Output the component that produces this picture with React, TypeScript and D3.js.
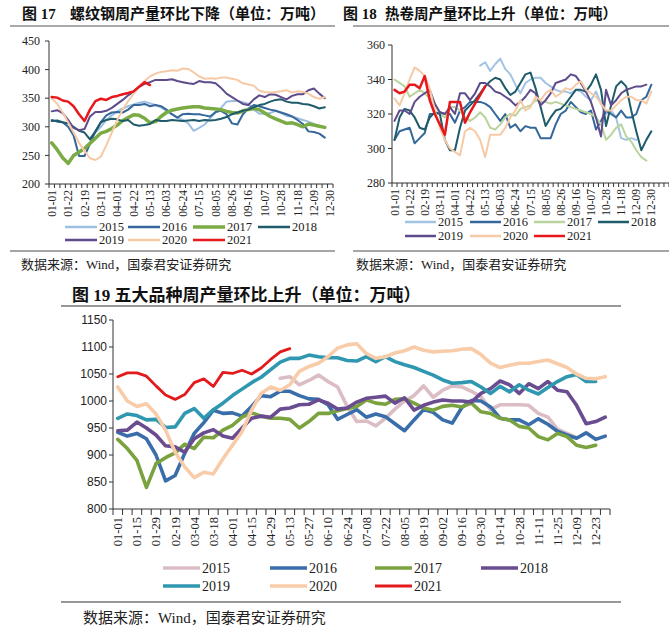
import React from 'react';
import * as d3 from 'd3';

// week labels on the category axes
const topTickLabels = ['01-01', '01-22', '02-19', '03-11', '04-01', '04-22', '05-13', '06-03', '06-24', '07-15', '08-05', '08-26', '09-16', '10-07', '10-28', '11-18', '12-09', '12-30'];
const bottomTickLabels = ['01-01', '01-15', '01-29', '02-19', '03-04', '03-18', '04-01', '04-15', '04-29', '05-13', '05-27', '06-10', '06-24', '07-08', '07-22', '08-05', '08-19', '09-02', '09-16', '09-30', '10-14', '10-28', '11-11', '11-25', '12-09', '12-23'];
const years = ['2015', '2016', '2017', '2018', '2019', '2020', '2021'];

// 图17 螺纹钢周产量 (万吨)
const rebar2015 = [null, null, null, null, null, null, null, 280, 290, 300, 312, 320, 327, 332, 336, 339, 342, 344, 341, 338, 334, 328, 322, 316, 312, 306, 293, 298, 304, 315, 325, 333, 344, 345, 345, 343, 340, 330, 323, 323, 324, 328, 324, 319, 318, 315, 312, 309, 305];
const rebar2016 = [312, 309, 308, 300, 285, 249, 249, 270, 292, 308, 320, 325, 326, 325, 330, 338, 338, 340, 336, 338, 336, 330, 322, 316, 322, 323, 322, 322, 320, 318, 326, 328, 322, 306, 304, 322, 332, 338, 336, 333, 330, 328, 325, 322, 318, 312, 305, 292, 291, 288, 281];
const rebar2017 = [272, 260, 246, 236, 250, 256, 262, 271, 280, 289, 292, 297, 303, 311, 316, 321, 320, 315, 307, 309, 318, 325, 329, 331, 333, 334, 335, 335, 333, 332, 331, 330, 327, 325, 324, 328, 330, 332, 330, 324, 318, 314, 310, 306, 307, 304, 300, 305, 303, 301, 299];
const rebar2018 = [310, 311, 308, 306, 300, 293, 290, 278, 292, 308, 312, 314, 313, 310, 312, 304, 302, 303, 305, 312, 310, 310, 312, 311, 310, 311, 312, 310, 312, 311, 312, 314, 317, 322, 325, 328, 330, 334, 338, 340, 344, 347, 348, 344, 342, 342, 340, 339, 336, 332, 334];
const rebar2019 = [327, 329, 324, 312, 298, 294, 296, 318, 326, 326, 328, 333, 340, 347, 355, 362, 370, 375, 378, 382, 382, 382, 383, 380, 378, 376, 375, 380, 378, 378, 376, 368, 358, 352, 346, 340, 338, 348, 355, 352, 357, 356, 352, 348, 354, 357, 357, 364, 367, 358, 350];
const rebar2020 = [350, 340, 325, 308, 290, 272, 258, 245, 242, 248, 268, 290, 312, 330, 345, 358, 370, 380, 388, 393, 396, 397, 399, 398, 402, 401, 395, 388, 384, 385, 384, 386, 386, 384, 382, 376, 374, 372, 363, 361, 360, 361, 362, 364, 360, 362, 361, 358, 352, 349, 352];
const rebar2021 = [352, 351, 346, 344, 336, 322, 310, 330, 345, 349, 347, 352, 354, 357, 359, 362, 370, 378, 373];

// 图18 热卷周产量 (万吨)
const coil2015 = [null, null, null, null, null, null, null, null, null, null, null, null, null, null, null, null, null, 348, 350, 345, 349, 352, 346, 343, 337, 332, 338, 340, 341, 341, 338, 336, 334, 333, 333, 332, 334, 333, 330, 328, 333, 326, 320, 322, 318, 306, 305, 306, 305];
const coil2016 = [305, 310, 311, 312, 303, 306, 309, 320, 320, 321, 320, 320, 315, 322, 324, 327, 327, 327, 326, 324, 320, 316, 320, 312, 314, 310, 313, 312, 312, 306, 306, 306, 314, 320, 322, 327, 324, 321, 320, 322, 311, 316, 322, 320, 318, 322, 318, 318, 320, 328, 330, 337];
const coil2017 = [340, 338, 336, 330, 332, 334, 332, 329, 326, 320, 318, 324, 324, 322, 318, 316, 318, 321, 318, 312, 311, 314, 318, 320, 319, 323, 324, 325, 328, 327, 327, 326, 327, 326, 325, 324, 323, 322, 321, 320, 318, 314, 305, 308, 312, 314, 307, 304, 299, 295, 293];
const coil2018 = [305, 318, 323, 322, 318, 312, 311, 318, 321, 320, 305, 299, 299, 312, 322, 325, 328, 332, 336, 339, 341, 340, 335, 331, 333, 338, 343, 344, 335, 324, 313, 318, 322, 323, 326, 330, 334, 334, 333, 337, 343, 334, 313, 325, 336, 339, 336, 322, 310, 299, 305, 310];
const coil2019 = [316, 322, 322, 320, 327, 330, 332, 334, 326, 321, 320, 324, 320, 332, 332, 328, 332, 338, 338, 336, 333, 332, 330, 328, 325, 327, 330, 334, 332, 325, 328, 332, 338, 339, 340, 343, 342, 338, 333, 327, 318, 307, 334, 325, 328, 332, 334, 335, 336, 336, 337];
const coil2020 = [329, 325, 332, 340, 347, 345, 342, 335, 322, 312, 305, 300, 298, 296, 310, 312, 310, 305, 295, 308, 308, 308, 312, 318, 322, 328, 322, 324, 330, 328, 332, 334, 330, 332, 335, 334, 337, 339, 334, 332, 330, 326, 322, 322, 325, 328, 330, 330, 328, 328, 326, 333];
const coil2021 = [334, 332, 333, 337, 337, 335, 342, 328, 320, 314, 308, 327, 327, 327, 315, 321, 326, 331, 336];

// 图19 五大品种周产量 (万吨)
const five2015 = [null, null, null, null, null, null, null, null, null, null, null, null, null, null, null, null, null, 1042, 1045, 1030, 1038, 1048, 1036, 1026, 990, 962, 963, 954, 968, 985, 1000, 1010, 1028, 1007, 1020, 1028, 1026, 1018, 1008, 984, 993, 993, 993, 992, 977, 970, 948, 940, 932];
const five2016 = [942, 935, 940, 930, 900, 852, 862, 903, 940, 960, 983, 977, 978, 972, 990, 1010, 1008, 1018, 1018, 1010, 1004, 1003, 993, 966, 975, 984, 970, 976, 971, 958, 945, 965, 984, 979, 965, 959, 988, 1001, 1000, 989, 968, 965, 965, 956, 967, 957, 944, 937, 931, 941, 929, 935];
const five2017 = [929, 912, 890, 840, 884, 895, 904, 920, 912, 933, 932, 946, 955, 970, 978, 972, 968, 968, 966, 950, 962, 977, 977, 982, 986, 990, 1002, 996, 994, 1003, 1004, 996, 987, 983, 990, 992, 989, 996, 980, 977, 968, 965, 953, 950, 934, 928, 940, 934, 918, 914, 918];
const five2018 = [945, 946, 961, 950, 937, 917, 915, 905, 930, 941, 947, 935, 931, 950, 968, 972, 970, 985, 987, 993, 994, 1002, 996, 985, 987, 998, 1005, 1007, 1009, 996, 1006, 983, 992, 998, 1002, 1000, 1000, 998, 1014, 1023, 1037, 1030, 1014, 1032, 1023, 1036, 1020, 1017, 992, 958, 962, 970];
const five2019 = [968, 976, 973, 965, 966, 951, 952, 977, 986, 968, 984, 996, 1010, 1022, 1034, 1044, 1058, 1072, 1079, 1079, 1085, 1082, 1080, 1080, 1075, 1074, 1082, 1073, 1082, 1073, 1067, 1062, 1055, 1048, 1039, 1033, 1034, 1036, 1026, 1014, 1027, 1017, 1030, 1020, 1013, 1025, 1036, 1045, 1049, 1036, 1036];
const five2020 = [1026, 1000, 990, 995, 976, 946, 905, 878, 858, 868, 865, 893, 918, 943, 983, 1014, 1026, 1020, 1030, 1055, 1064, 1070, 1082, 1098, 1104, 1106, 1088, 1079, 1082, 1089, 1093, 1100, 1094, 1091, 1092, 1093, 1096, 1097, 1086, 1070, 1062, 1066, 1070, 1070, 1073, 1076, 1069, 1062, 1050, 1042, 1041, 1045];
const five2021 = [1045, 1052, 1052, 1046, 1028, 1011, 1003, 1012, 1034, 1041, 1027, 1053, 1051, 1057, 1050, 1061, 1077, 1091, 1097];

const SERIF = "'Liberation Serif', 'Noto Sans CJK SC', serif";
const CJK = "'Noto Sans CJK SC', sans-serif";
const SANS = "'Liberation Sans', Arial, sans-serif";

type Val = number | null;
interface Series { name: string; values: Val[]; color: string; width: number }

interface ChartCfg {
  series: Series[];
  n: number;
  x0: number; x1: number;
  yTop: number; yBottom: number;
  domain: [number, number];
  yStep: number;
  tickLabels: string[];
  labelStep: number;
  yFont: string; yFontSize: number; yLabelGap: number;
  xFontSize: number; xLabelGap: number;
  tickLen: number;
}

function LineChart({ cfg }: { cfg: ChartCfg }) {
  const x = d3.scaleBand<number>().domain(d3.range(cfg.n)).range([cfg.x0, cfg.x1]);
  const cx = (i: number) => (x(i) as number) + x.bandwidth() / 2;
  const y = d3.scaleLinear().domain(cfg.domain).range([cfg.yBottom, cfg.yTop]);
  const yTicks = d3.range(cfg.domain[0], cfg.domain[1] + 1, cfg.yStep);
  const line = d3.line<Val>()
    .defined(d => d != null)
    .x((_, i) => cx(i))
    .y(d => y(d as number));

  return (
    <g>
      {/* axes */}
      <line x1={cfg.x0} x2={cfg.x0} y1={cfg.yTop} y2={cfg.yBottom} stroke="#333" strokeWidth={1} />
      <line x1={cfg.x0} x2={cfg.x1} y1={cfg.yBottom} y2={cfg.yBottom} stroke="#333" strokeWidth={1} />
      {yTicks.map(t => (
        <g key={t}>
          <line x1={cfg.x0 - 4} x2={cfg.x0} y1={y(t)} y2={y(t)} stroke="#333" />
          <text x={cfg.x0 - cfg.yLabelGap} y={y(t)} dy="0.35em" textAnchor="end"
            fontFamily={cfg.yFont} fontSize={cfg.yFontSize} fill="#222">{t}</text>
        </g>
      ))}
      {d3.range(cfg.n + 1).map(i => {
        const px = cfg.x0 + i * x.step();
        return <line key={i} x1={px} x2={px} y1={cfg.yBottom} y2={cfg.yBottom + cfg.tickLen} stroke="#333" />;
      })}
      {cfg.tickLabels.map((lab, k) => {
        const px = cx(k * cfg.labelStep);
        const py = cfg.yBottom + cfg.xLabelGap;
        return (
          <text key={lab} transform={`translate(${px},${py}) rotate(-90)`} dy="0.35em" textAnchor="end"
            fontFamily={SERIF} fontSize={cfg.xFontSize} fill="#222">{lab}</text>
        );
      })}
      {/* series */}
      {cfg.series.map(s => (
        <path key={s.name} d={line(s.values) || ''} fill="none" stroke={s.color}
          strokeWidth={s.width} strokeLinejoin="round" strokeLinecap="round" />
      ))}
    </g>
  );
}

function Legend({ series, xs, ys, lineLen, fontSize }: { series: Series[]; xs: number[]; ys: number[]; lineLen: number; fontSize: number }) {
  return (
    <g>
      {series.map((s, k) => {
        const lx = xs[k % 4];
        const ly = ys[Math.floor(k / 4)];
        return (
          <g key={s.name}>
            <line x1={lx} x2={lx + lineLen} y1={ly} y2={ly} stroke={s.color} strokeWidth={Math.max(s.width, 2.5)} />
            <text x={lx + lineLen + 2} y={ly} dy="0.35em" fontFamily={SERIF} fontSize={fontSize} fill="#222">{s.name}</text>
          </g>
        );
      })}
    </g>
  );
}

const rebarColors = ['#9dc0e2', '#35679b', '#7aab45', '#1f5b6b', '#5e4b8c', '#f7caa6', '#e8171b'];
const rebarWidths = [2, 2, 3.5, 2, 2, 2, 2.5];
const coilColors = ['#a3c3e3', '#35679b', '#b9d49c', '#1f5b6b', '#5e4b8c', '#f7caa6', '#e8171b'];
const fiveColors = ['#dbbdc4', '#3a6eab', '#7aa23f', '#6a4c90', '#2f98b0', '#f8cca9', '#e31a1c'];

export default function App() {
  const rebarSeries: Series[] = [rebar2015, rebar2016, rebar2017, rebar2018, rebar2019, rebar2020, rebar2021]
    .map((v, k) => ({ name: years[k], values: v, color: rebarColors[k], width: rebarWidths[k] }));
  const coilSeries: Series[] = [coil2015, coil2016, coil2017, coil2018, coil2019, coil2020, coil2021]
    .map((v, k) => ({ name: years[k], values: v, color: coilColors[k], width: k === 6 ? 2.5 : 2 }));
  const fiveSeries: Series[] = [five2015, five2016, five2017, five2018, five2019, five2020, five2021]
    .map((v, k) => ({ name: years[k], values: v, color: fiveColors[k], width: k === 6 ? 2.8 : 3.6 }));

  const rebarCfg: ChartCfg = {
    series: rebarSeries, n: 52, x0: 49, x1: 333, yTop: 41, yBottom: 184,
    domain: [200, 450], yStep: 50, tickLabels: topTickLabels, labelStep: 3,
    yFont: SERIF, yFontSize: 12, yLabelGap: 9, xFontSize: 11.5, xLabelGap: 6, tickLen: 4,
  };
  const coilCfg: ChartCfg = {
    series: coilSeries, n: 55, x0: 392, x1: 669, yTop: 45, yBottom: 183,
    domain: [280, 360], yStep: 20, tickLabels: topTickLabels, labelStep: 3,
    yFont: SERIF, yFontSize: 12, yLabelGap: 7, xFontSize: 11.5, xLabelGap: 6, tickLen: 4,
  };
  const fiveCfg: ChartCfg = {
    series: fiveSeries, n: 52, x0: 113, x1: 610, yTop: 320, yBottom: 509,
    domain: [800, 1150], yStep: 50, tickLabels: bottomTickLabels, labelStep: 2,
    yFont: SANS, yFontSize: 12, yLabelGap: 6, xFontSize: 12.5, xLabelGap: 8, tickLen: 6,
  };

  return (
    <svg width={669} height={644} style={{ position: 'absolute', left: 0, top: 0, background: '#fff' }}>
      <rect width={669} height={644} fill="#fff" />

      {/* 图17 */}
      <text x={22} y={14} dy="0.35em" fontFamily={SERIF} fontWeight="bold" fontSize={15} fill="#111">
        <tspan fontFamily={CJK}>图</tspan> 17
      </text>
      <text x={70} y={14} dy="0.35em" fontFamily={CJK} fontWeight="bold" fontSize={15} fill="#111">螺纹钢周产量环比下降（单位：万吨）</text>
      <line x1={10} x2={335} y1={26} y2={26} stroke="#555" strokeWidth={1.2} />
      <LineChart cfg={rebarCfg} />
      <Legend series={rebarSeries} xs={[65, 128, 193, 258]} ys={[227, 240]} lineLen={32} fontSize={12.5} />
      <line x1={10} x2={335} y1={251} y2={251} stroke="#888" strokeWidth={1.5} />
      <text x={21} y={264} dy="0.35em" fontFamily={SERIF} fontSize={13} fill="#222">数据来源：Wind，国泰君安证券研究</text>

      {/* 图18 */}
      <text x={343} y={14} dy="0.35em" fontFamily={SERIF} fontWeight="bold" fontSize={15} fill="#111">
        <tspan fontFamily={CJK}>图</tspan> 18
      </text>
      <text x={385} y={14} dy="0.35em" fontFamily={CJK} fontWeight="bold" fontSize={14.5} fill="#111">热卷周产量环比上升（单位：万吨）</text>
      <line x1={353} x2={669} y1={26} y2={26} stroke="#555" strokeWidth={1.2} />
      <LineChart cfg={coilCfg} />
      <Legend series={coilSeries} xs={[405, 470, 534, 598]} ys={[222, 236]} lineLen={31} fontSize={12.5} />
      <line x1={353} x2={669} y1={251} y2={251} stroke="#888" strokeWidth={1.5} />
      <text x={356} y={264} dy="0.35em" fontFamily={SERIF} fontSize={13} fill="#222">数据来源：Wind，国泰君安证券研究</text>

      {/* 图19 */}
      <text x={72} y={295} dy="0.35em" fontFamily={CJK} fontWeight="bold" fontSize={17} fill="#111">
        图<tspan fontFamily={SERIF}> 19 </tspan>五大品种周产量环比上升（单位：万吨）
      </text>
      <line x1={61} x2={621} y1={306} y2={306} stroke="#333" strokeWidth={1.2} />
      <LineChart cfg={fiveCfg} />
      <Legend series={fiveSeries} xs={[163, 270, 375, 481]} ys={[568, 586]} lineLen={37} fontSize={14} />
      <line x1={61} x2={621} y1={602} y2={602} stroke="#333" strokeWidth={1.2} />
      <text x={83} y={618} dy="0.35em" fontFamily={SERIF} fontSize={15} fill="#222">数据来源：Wind，国泰君安证券研究</text>
    </svg>
  );
}
